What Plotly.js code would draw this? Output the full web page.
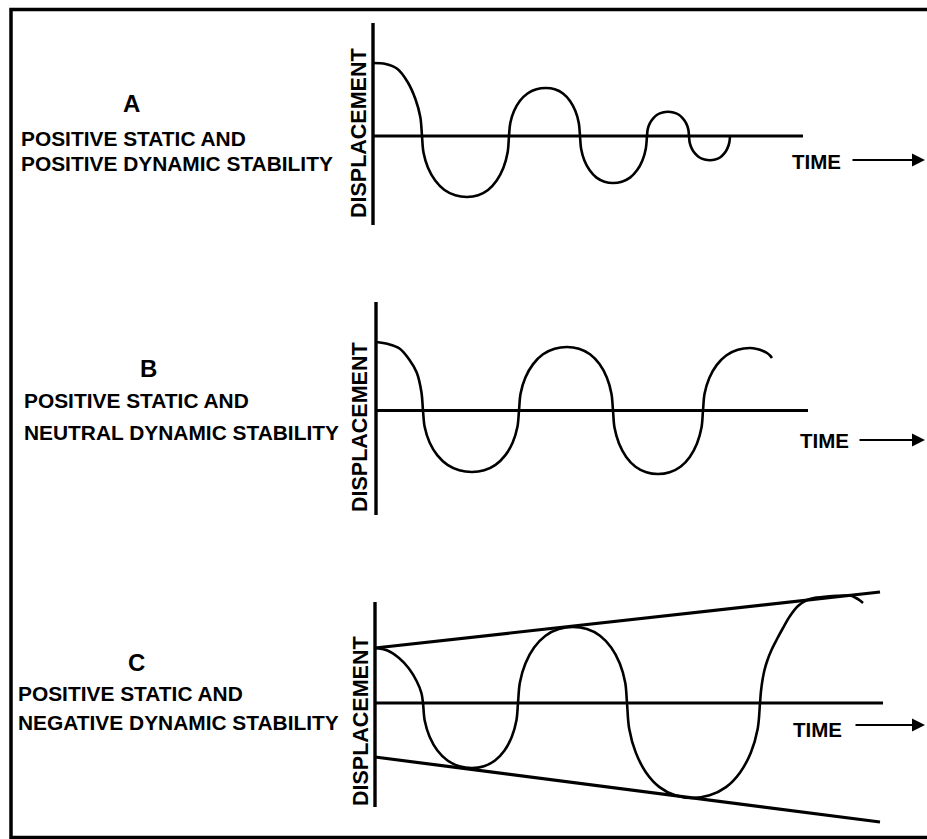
<!DOCTYPE html>
<html>
<head>
<meta charset="utf-8">
<script src="https://cdn.plot.ly/plotly-3.0.1.min.js"></script>
<style>html,body{margin:0;padding:0;background:#fff;}#chart{width:927px;height:839px;}</style>
</head>
<body>
<div id="chart"></div>
<script>
// ---- Data (time, displacement; arbitrary units) ----
// Panel A: positive static, positive dynamic stability (damped oscillation)
const tA = [0, 12.7, 24.5, 34.6, 42.4, 47.3, 49,
  50.5, 55, 62.2, 71.5, 82.3, 94, 105.1, 115, 123.7, 130.4, 134.6, 136,
  137.3, 141, 146.8, 154.5, 163.4, 173, 181.8, 190, 197, 202.4, 205.8, 207,
  208.1, 211.4, 216.7, 223.5, 231.5, 240, 248.8, 257, 264, 269.4, 272.8, 274,
  274.7, 276.8, 280.2, 284.5, 289.6, 295, 300.4, 305.5, 309.8, 313.2, 315.3, 316,
  316.7, 318.8, 322.2, 326.5, 331.6, 337, 342.2, 347, 351.1, 354.3, 356.3, 357];
const dA = [73, 72, 67, 54, 37, 19, 0,
  -16.5, -31.7, -44.5, -54, -59.3, -61, -59.3, -54, -44.5, -31.7, -16.5, 0,
  13, 25, 35, 42.5, 46.7, 48, 46.7, 42.5, 35, 25, 13, 0,
  -12.7, -24.4, -34.3, -41.6, -45.7, -47, -45.7, -41.6, -34.3, -24.4, -12.7, 0,
  6.6, 12.6, 17.7, 21.5, 23.6, 24.3, 23.6, 21.5, 17.7, 12.6, 6.6, 0,
  -6.6, -12.6, -17.7, -21.5, -23.6, -24.3, -23.6, -21.5, -17.7, -12.6, -6.6, 0];
// Panel B: positive static, neutral dynamic stability (constant oscillation)
const tB = [0, 12.2, 23.5, 33.2, 40.7, 45.4, 47,
  48.7, 53.6, 61.4, 71.5, 83.3, 96, 108.2, 119.5, 129.2, 136.7, 141.4, 143,
  144.6, 149.4, 157.1, 167, 178.6, 191, 202.9, 214, 223.5, 230.8, 235.4, 237,
  238.5, 243, 250.2, 259.5, 270.3, 282, 293.7, 304.5, 313.8, 321, 325.5, 327,
  328.6, 333.3, 340.8, 350.5, 361.8, 374, 381, 387, 391, 394, 396];
const dB = [68.5, 66.5, 62, 51, 38, 18.5, 0,
  -16.6, -32, -44.9, -54.4, -59.8, -61.5, -59.8, -54.4, -44.9, -32, -16.6, 0,
  17.1, 33, 46.4, 56.2, 61.7, 63.5, 61.7, 56.2, 46.4, 33, 17.1, 0,
  -17.1, -33, -46.4, -56.2, -61.7, -63.5, -61.7, -56.2, -46.4, -33, -17.1, 0,
  16.9, 32.5, 45.6, 55.3, 60.8, 62.5, 61.5, 59.5, 57.5, 55, 52.5];
// Panel C: positive static, negative dynamic stability (divergent oscillation)
const tC = [0, 12.4, 24, 33.9, 41.6, 46.4, 48,
  49.7, 54.6, 62.4, 72.5, 84.3, 97, 108.9, 120, 129.5, 136.8, 141.4, 143,
  144.9, 150.4, 159.1, 170.5, 183.8, 198, 212, 225, 236.2, 244.8, 250.2, 252,
  254.2, 260.7, 271, 284.5, 300.2, 317, 334.6, 351, 365.1, 375.9, 382.7, 385,
  386, 387.5, 389.5, 392.5, 396.5, 401.5, 408, 415, 423, 432, 442, 452, 462, 472, 477, 481, 485, 488];
const dC = [55, 52.5, 45, 34.5, 22, 10, 0,
  -17.6, -33.8, -47.5, -57.5, -63.2, -65, -63.2, -57.5, -47.5, -33.8, -17.6, 0,
  20.5, 39.5, 55.5, 67.3, 73.9, 76, 73.9, 67.3, 55.5, 39.5, 20.5, 0,
  -25.7, -49.4, -69.4, -84.1, -92.3, -95, -92.3, -84.1, -69.4, -49.4, -25.7, 0,
  12, 23, 33, 43, 53, 63, 75, 87, 97, 103, 105.5, 106.5, 107.2, 107.5, 107, 105, 102.5, 100];
// Panel C envelope lines
const envT = [0, 505];
const envUpper = [55, 111];
const envLower = [-54, -119];

// Text
const panelLetters = ['A', 'B', 'C'];
const labelLine1 = ['POSITIVE STATIC AND', 'POSITIVE STATIC AND', 'POSITIVE STATIC AND'];
const labelLine2 = ['POSITIVE DYNAMIC STABILITY', 'NEUTRAL DYNAMIC STABILITY', 'NEGATIVE DYNAMIC STABILITY'];
const yLabel = 'DISPLACEMENT';
const xLabel = 'TIME';

// ---- Layout helpers (pixel -> paper) ----
const W = 927, H = 839;
const px = x => x / W;
const py = y => 1 - y / H;
const FONT = 'Liberation Sans, Arial, Helvetica, sans-serif';

// Panel geometry: origin pixel, axis extents (in axis units), plotted domain (pixels)
const panels = [
  {ox: 373, oy: 136,   xr: [-6, 436], yr: [-95, 119],     axTop: 113,   axBot: -89,    zeroEnd: 430,
   letter: [131, 103.5], l1: [19.5, 138], l2: [19.5, 164], disp: [359, 133], time: [791, 161.5], arrow: [852, 925, 160]},
  {ox: 376, oy: 410.5, xr: [-6, 438], yr: [-110.5, 114.5], axTop: 108.5, axBot: -104.5, zeroEnd: 432,
   letter: [148, 368], l1: [23, 400], l2: [23, 432], disp: [360, 427], time: [799, 440.5], arrow: [859, 925, 440]},
  {ox: 375, oy: 703,   xr: [-6, 514], yr: [-127, 118],    axTop: 101,   axBot: -104,   zeroEnd: 508,
   letter: [136, 662], l1: [17, 693], l2: [17, 722], disp: [361, 721], time: [792, 729], arrow: [855, 925, 725]}
];

const layout = {
  width: W, height: H,
  margin: {l: 0, r: 0, t: 0, b: 0, pad: 0},
  paper_bgcolor: '#ffffff', plot_bgcolor: 'rgba(0,0,0,0)',
  showlegend: false,
  shapes: [], annotations: []
};

const axisCommon = {showgrid: false, zeroline: false, showline: false, showticklabels: false, ticks: '', fixedrange: true};

panels.forEach((p, i) => {
  const sfx = i === 0 ? '' : String(i + 1);
  const xa = 'xaxis' + sfx, ya = 'yaxis' + sfx;
  const xr = 'x' + sfx, yr = 'y' + sfx;
  layout[xa] = Object.assign({}, axisCommon, {
    domain: [px(p.ox + p.xr[0]), px(p.ox + p.xr[1])], range: p.xr, anchor: yr
  });
  layout[ya] = Object.assign({}, axisCommon, {
    domain: [py(p.oy - p.yr[0]), py(p.oy - p.yr[1])], range: p.yr, anchor: xr
  });
  // vertical displacement axis
  layout.shapes.push({type: 'line', xref: xr, yref: yr, x0: 0, x1: 0, y0: p.axBot, y1: p.axTop,
    line: {color: '#000', width: 3.4}});
  // time (zero) axis
  layout.shapes.push({type: 'line', xref: xr, yref: yr, x0: 0, x1: p.zeroEnd, y0: 0, y1: 0,
    line: {color: '#000', width: 3.2}});

  const ann = layout.annotations;
  ann.push({xref: 'paper', yref: 'paper', x: px(p.letter[0]), y: py(p.letter[1]), xanchor: 'center', yanchor: 'middle',
    text: panelLetters[i], showarrow: false, borderpad: 0, font: {family: FONT, size: 24, color: '#000', weight: 'bold'}});
  ann.push({xref: 'paper', yref: 'paper', x: px(p.l1[0]), y: py(p.l1[1]), xanchor: 'left', yanchor: 'middle',
    text: labelLine1[i], showarrow: false, borderpad: 0, font: {family: FONT, size: 20.9, color: '#000', weight: 'bold'}});
  ann.push({xref: 'paper', yref: 'paper', x: px(p.l2[0]), y: py(p.l2[1]), xanchor: 'left', yanchor: 'middle',
    text: labelLine2[i], showarrow: false, borderpad: 0, font: {family: FONT, size: 20.9, color: '#000', weight: 'bold'}});
  ann.push({xref: 'paper', yref: 'paper', x: px(p.disp[0]), y: py(p.disp[1]), xanchor: 'center', yanchor: 'middle',
    text: yLabel, textangle: -90, showarrow: false, borderpad: 0, font: {family: FONT, size: 21.5, color: '#000', weight: 'bold'}});
  ann.push({xref: 'paper', yref: 'paper', x: px(p.time[0]), y: py(p.time[1]), xanchor: 'left', yanchor: 'middle',
    text: xLabel, showarrow: false, borderpad: 0, font: {family: FONT, size: 20.5, color: '#000', weight: 'bold'}});
  ann.push({xref: 'paper', yref: 'paper', x: px(p.arrow[1]), y: py(p.arrow[2]), text: '',
    showarrow: true, ax: -(p.arrow[1] - p.arrow[0]) - 1, ay: 0, arrowhead: 2, arrowsize: 1.3, arrowwidth: 2,
    arrowcolor: '#000', standoff: 0, startstandoff: 0});
});

// outer frame
layout.shapes.push({type: 'rect', xref: 'paper', yref: 'paper',
  x0: px(11), x1: px(940), y0: py(837.5), y1: py(9.5), line: {color: '#000', width: 3.5}});

const curveLine = {color: '#000', width: 2.6, shape: 'spline', smoothing: 1};
const data = [
  {type: 'scatter', mode: 'lines', x: tA, y: dA, xaxis: 'x', yaxis: 'y', line: curveLine, hoverinfo: 'skip'},
  {type: 'scatter', mode: 'lines', x: tB, y: dB, xaxis: 'x2', yaxis: 'y2', line: curveLine, hoverinfo: 'skip'},
  {type: 'scatter', mode: 'lines', x: envT, y: envUpper, xaxis: 'x3', yaxis: 'y3', line: {color: '#000', width: 3.2}, hoverinfo: 'skip'},
  {type: 'scatter', mode: 'lines', x: envT, y: envLower, xaxis: 'x3', yaxis: 'y3', line: {color: '#000', width: 3.2}, hoverinfo: 'skip'},
  {type: 'scatter', mode: 'lines', x: tC, y: dC, xaxis: 'x3', yaxis: 'y3', line: curveLine, hoverinfo: 'skip'}
];

Plotly.newPlot('chart', data, layout, {displayModeBar: false, staticPlot: true});
</script>
</body>
</html>
